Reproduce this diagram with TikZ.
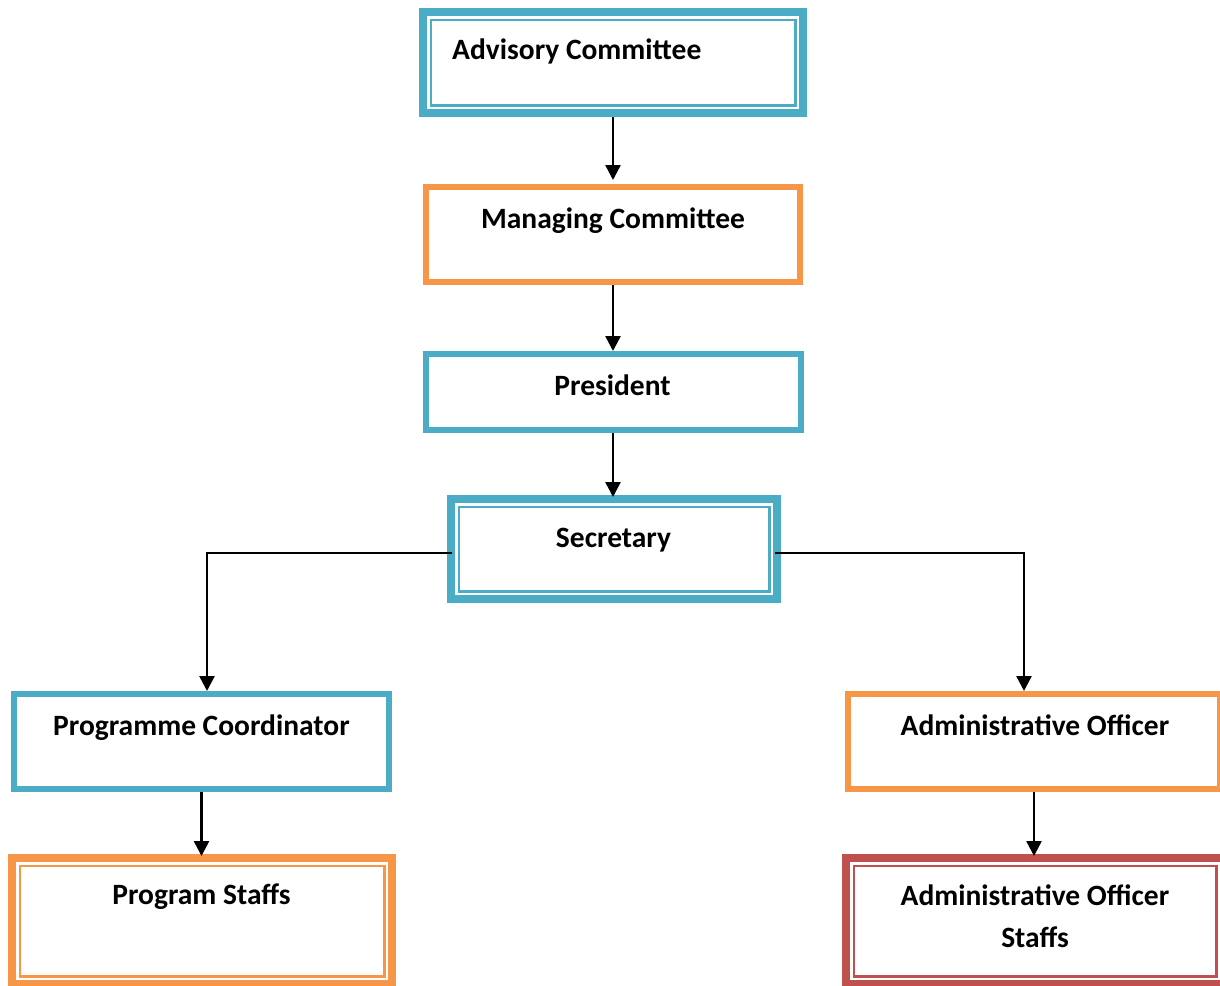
\documentclass[tikz,border=0pt]{standalone}
\usepackage{fontspec}
\setmainfont{Carlito}
\usetikzlibrary{arrows.meta,calc}
\definecolor{cblue}{HTML}{4BACC6}
\definecolor{corange}{HTML}{F79646}
\definecolor{cred}{HTML}{C0504D}
\begin{document}
\begin{tikzpicture}[x=1pt,y=-1pt,
  sbox/.style={draw=#1, line width=6pt, outer sep=3pt, inner sep=0pt, rectangle},
  dbox/.style={draw=none, outer sep=0pt, inner sep=0pt, rectangle},
  lbl/.style={font=\bfseries\fontsize{29.5}{42}\selectfont, inner sep=0pt, anchor=base, align=center},
  conn/.style={draw=black, line width=2.5pt, -{Triangle[width=15pt,length=15pt]}}]
\useasboundingbox (0,0) rectangle (1220,985);
% boxes
\node[dbox, minimum width=388pt, minimum height=109pt] (adv) at (613,62.5) {};
\node[sbox=corange, minimum width=374pt, minimum height=95pt] (man) at (613,234.5) {};
\node[sbox=cblue, minimum width=375pt, minimum height=76pt] (pres) at (613,392) {};
\node[dbox, minimum width=334pt, minimum height=108pt] (sec) at (614,549) {};
\node[sbox=cblue, minimum width=375pt, minimum height=95pt] (pc) at (201.5,741.5) {};
\node[sbox=corange, minimum width=372pt, minimum height=95pt] (ao) at (1034,741.5) {};
\node[dbox, minimum width=388pt, minimum height=134pt] (ps) at (202,921) {};
\node[dbox, minimum width=386pt, minimum height=134pt] (aos) at (1035,921) {};
% double borders
\foreach \n/\c in {adv/cblue, sec/cblue, ps/corange, aos/cred} {
  \draw[draw=\c, line width=8pt] ($(\n.north west)+(4,4)$) rectangle ($(\n.south east)+(-4,-4)$);
  \draw[draw=\c, line width=2.5pt] ($(\n.north west)+(11.75,11.75)$) rectangle ($(\n.south east)+(-11.75,-11.75)$);
}
% labels
\node[lbl, anchor=base west] (advT) at (452,59) {Advisory Committee};
\node[lbl] (manT) at (613,228) {Managing Committee};
\node[lbl] (presT) at (612.5,395) {President};
\node[lbl] (secT) at (613.5,547) {Secretary};
\node[lbl] (pcT) at (201.5,735) {Programme Coordinator};
\node[lbl] (aoT) at (1035,735) {Administrative Officer};
\node[lbl] (psT) at (201.5,904) {Program Staffs};
\node[lbl] (aosT) at (1035,947) {Administrative Officer\\Staffs};
% connectors
\coordinate (jl) at (207,553);
\coordinate (jr) at (1024,553);
\draw[conn, shorten >=4pt] (adv.south) -- (man.north);
\draw[conn, shorten >=0pt] (man.south) -- (pres.north);
\draw[conn, shorten >=-2pt] (pres.south) -- (pres.south |- sec.north);
\draw[conn] ([shift={(5,4)}]sec.west) -- (jl) -- (jl |- pc.north);
\draw[conn] ([shift={(-6,4)}]sec.east) -- (jr) -- (jr |- ao.north);
\draw[conn, shorten >=-2pt] (pc.south) -- (pc.south |- ps.north);
\draw[conn, shorten >=-2pt] (ao.south) -- (ao.south |- aos.north);
\end{tikzpicture}
\end{document}
